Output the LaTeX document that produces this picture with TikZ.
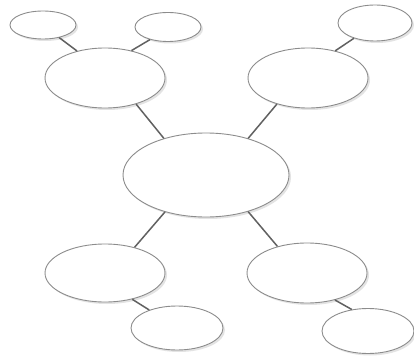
\documentclass[tikz,border=0pt]{standalone}
\usetikzlibrary{shapes.geometric,shadows}
\begin{document}
\begin{tikzpicture}[x=1pt,y=-1pt,
  bubble/.style={ellipse,draw=black!45,line width=0.9pt,fill=white,inner sep=0pt,
    drop shadow={opacity=0.22,shadow xshift=2pt,shadow yshift=-2pt}},
  link/.style={draw=black!62,line width=1.5pt}]
\useasboundingbox[fill=white] (0,0) rectangle (414,358);
\node[bubble,minimum width=166pt,minimum height=84pt] (c) at (206,175) {};
\node[bubble,minimum width=120pt,minimum height=60pt] (ul) at (105,78) {};
\node[bubble,minimum width=120pt,minimum height=60pt] (ur) at (308,78) {};
\node[bubble,minimum width=120pt,minimum height=58pt] (ll) at (105,273) {};
\node[bubble,minimum width=120pt,minimum height=60pt] (lr) at (307,273) {};
\node[bubble,minimum width=66pt,minimum height=28pt] (s1) at (43,25) {};
\node[bubble,minimum width=66pt,minimum height=29pt] (s2) at (168,27) {};
\node[bubble,minimum width=74pt,minimum height=36pt] (s3) at (375,23) {};
\node[bubble,minimum width=92pt,minimum height=44pt] (s4) at (177,328) {};
\node[bubble,minimum width=92pt,minimum height=45pt] (s5) at (368,331) {};
\begin{scope}[on background layer/.try]
\end{scope}
\draw[link] (c.139) -- (ul.-40);
\draw[link] (c.41) -- (ur.220);
\draw[link] (c.222) -- (ll.41);
\draw[link] (c.-41) -- (lr.138);
\draw[link] (s1.-38) -- (ul.136);
\draw[link] (s2.215) -- (ul.46);
\draw[link] (s3.216) -- (ur.45);
\draw[link] (ll.-44) -- (s4.147);
\draw[link] (lr.-44) -- (s5.127);
\end{tikzpicture}
\end{document}
